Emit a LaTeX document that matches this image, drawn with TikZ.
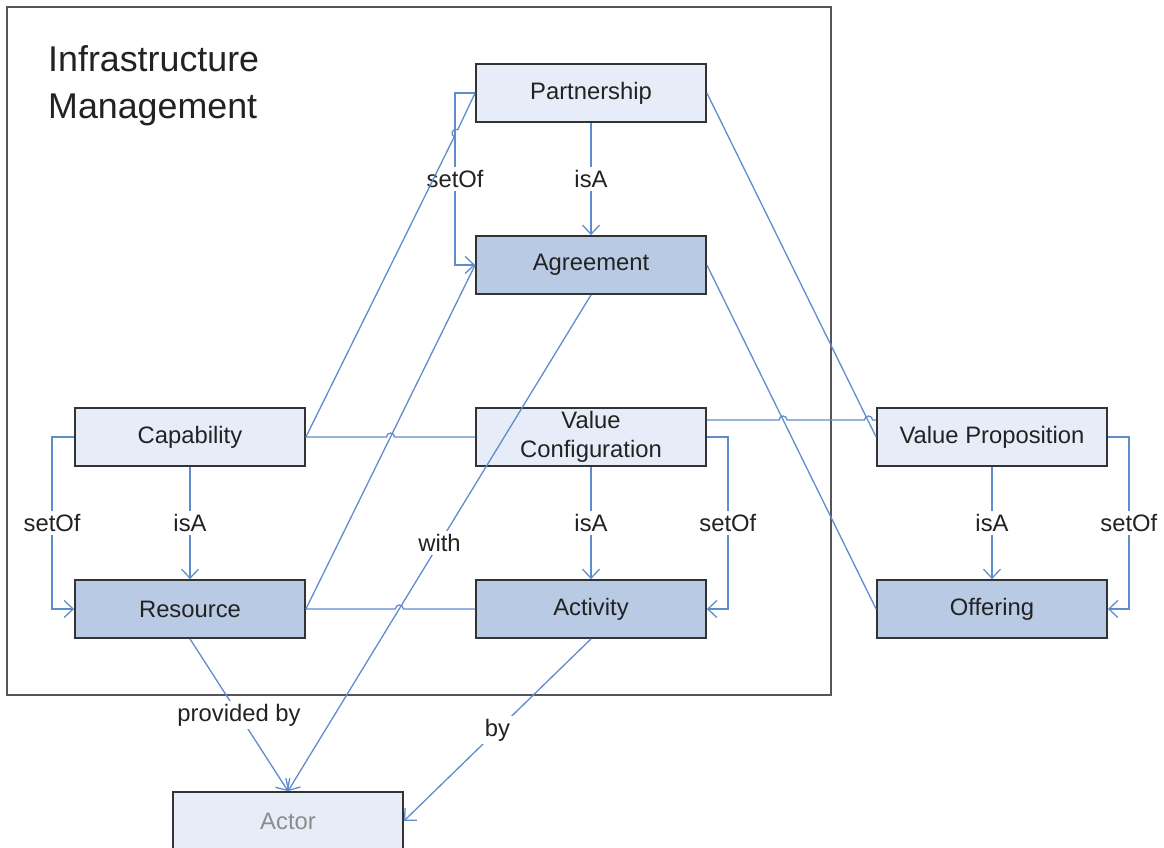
\documentclass[tikz,border=0pt]{standalone}
\usepackage{fontspec}
\setmainfont{Liberation Sans}
\usetikzlibrary{arrows.meta}

\definecolor{link}{RGB}{95,140,205}
\definecolor{paleblue}{RGB}{231,237,248}
\definecolor{midblue}{RGB}{185,202,228}
\definecolor{edge}{RGB}{51,51,51}
\definecolor{ink}{RGB}{34,34,34}
\definecolor{framegray}{RGB}{85,85,85}
\definecolor{dimtext}{RGB}{140,140,140}

\begin{document}
\begin{tikzpicture}[x=1pt,y=1pt,
  box/.style={draw=edge, line width=1.8pt, minimum width=230pt, minimum height=58pt,
    inner sep=0pt, font=\fontsize{23.8}{29}\selectfont, text=ink, align=center},
  light/.style={box, fill=paleblue},
  dark/.style={box, fill=midblue},
  conn/.style={draw=link, line width=1.3pt},
  arr/.style={conn, -{Straight Barb[length=9pt,width=17pt]}},
  lbl/.style={fill=white, inner xsep=3pt, inner ysep=3pt,
    font=\fontsize{23.8}{28}\selectfont, text=ink},
]
\useasboundingbox (0,0) rectangle (1164,847);
\clip (0,0) rectangle (1164,847);

% area frame and its title
\draw[framegray, line width=1.5pt] (7,840) rectangle (831,152);
\node[anchor=north west, align=left, inner sep=0pt, text=ink,
  font=\fontsize{35.8}{47}\selectfont] (title) at (48,802) {Infrastructure\\Management};

% concepts
\node[light] (part)  at (591,754) {Partnership};
\node[dark]  (agr)   at (591,582) {Agreement};
\node[light] (cap)   at (190,410) {Capability};
\node[light] (vc)    at (591,410) {Value\\Configuration};
\node[light] (vp)    at (992,410) {Value Proposition};
\node[dark]  (res)   at (190,238) {Resource};
\node[dark]  (act)   at (591,238) {Activity};
\node[dark]  (off)   at (992,238) {Offering};
\node[light, text=dimtext] (actor) at (288,26) {Actor};

% labelled relations
\draw[arr] (part.south) -- node[lbl]{isA} (agr.north);
\draw[arr] (part.west) -- ++(-20,0) |- node[lbl,pos=0.25]{setOf} (agr.west);
\draw[arr] (cap.south) -- node[lbl]{isA} (res.north);
\draw[arr] (cap.west) -- ++(-22,0) |- node[lbl,pos=0.25]{setOf} (res.west);
\draw[arr] (vc.south) -- node[lbl]{isA} (act.north);
\draw[arr] (vc.east) -- ++(21,0) |- node[lbl,pos=0.25]{setOf} (act.east);
\draw[arr] (vp.south) -- node[lbl]{isA} (off.north);
\draw[arr] (vp.east) -- ++(21,0) |- node[lbl,pos=0.25]{setOf} (off.east);
\draw[arr] (agr.south) -- node[lbl]{with} (actor.north);
\draw[arr] (res.south) -- node[lbl]{provided by} (actor.north);
\draw[arr] (act.south) -- node[lbl]{by} (actor.east);

% plain associations, with line jumps at crossings
\draw[conn] (cap.east) -- (454.22,710.18)
  arc[start angle=243.57, end angle=63.57, radius=4] -- (part.west);
\draw[conn] (cap.east) -- (386.5,410)
  arc[start angle=180, end angle=0, radius=4] -- (vc.west);
\draw[conn] (res.east) -- (agr.west);
\draw[conn] (res.east) -- (395.35,238)
  arc[start angle=180, end angle=0, radius=4] -- (act.west);
\draw[conn] ([yshift=17pt]vc.east) -- (779.05,427)
  arc[start angle=180, end angle=0, radius=4] -- (864.55,427)
  arc[start angle=180, end angle=0, radius=4] -- ([yshift=17pt]vp.west);
\draw[conn] (part.east) -- (vp.west);
\draw[conn] (agr.east) -- (off.west);
\end{tikzpicture}
\end{document}
